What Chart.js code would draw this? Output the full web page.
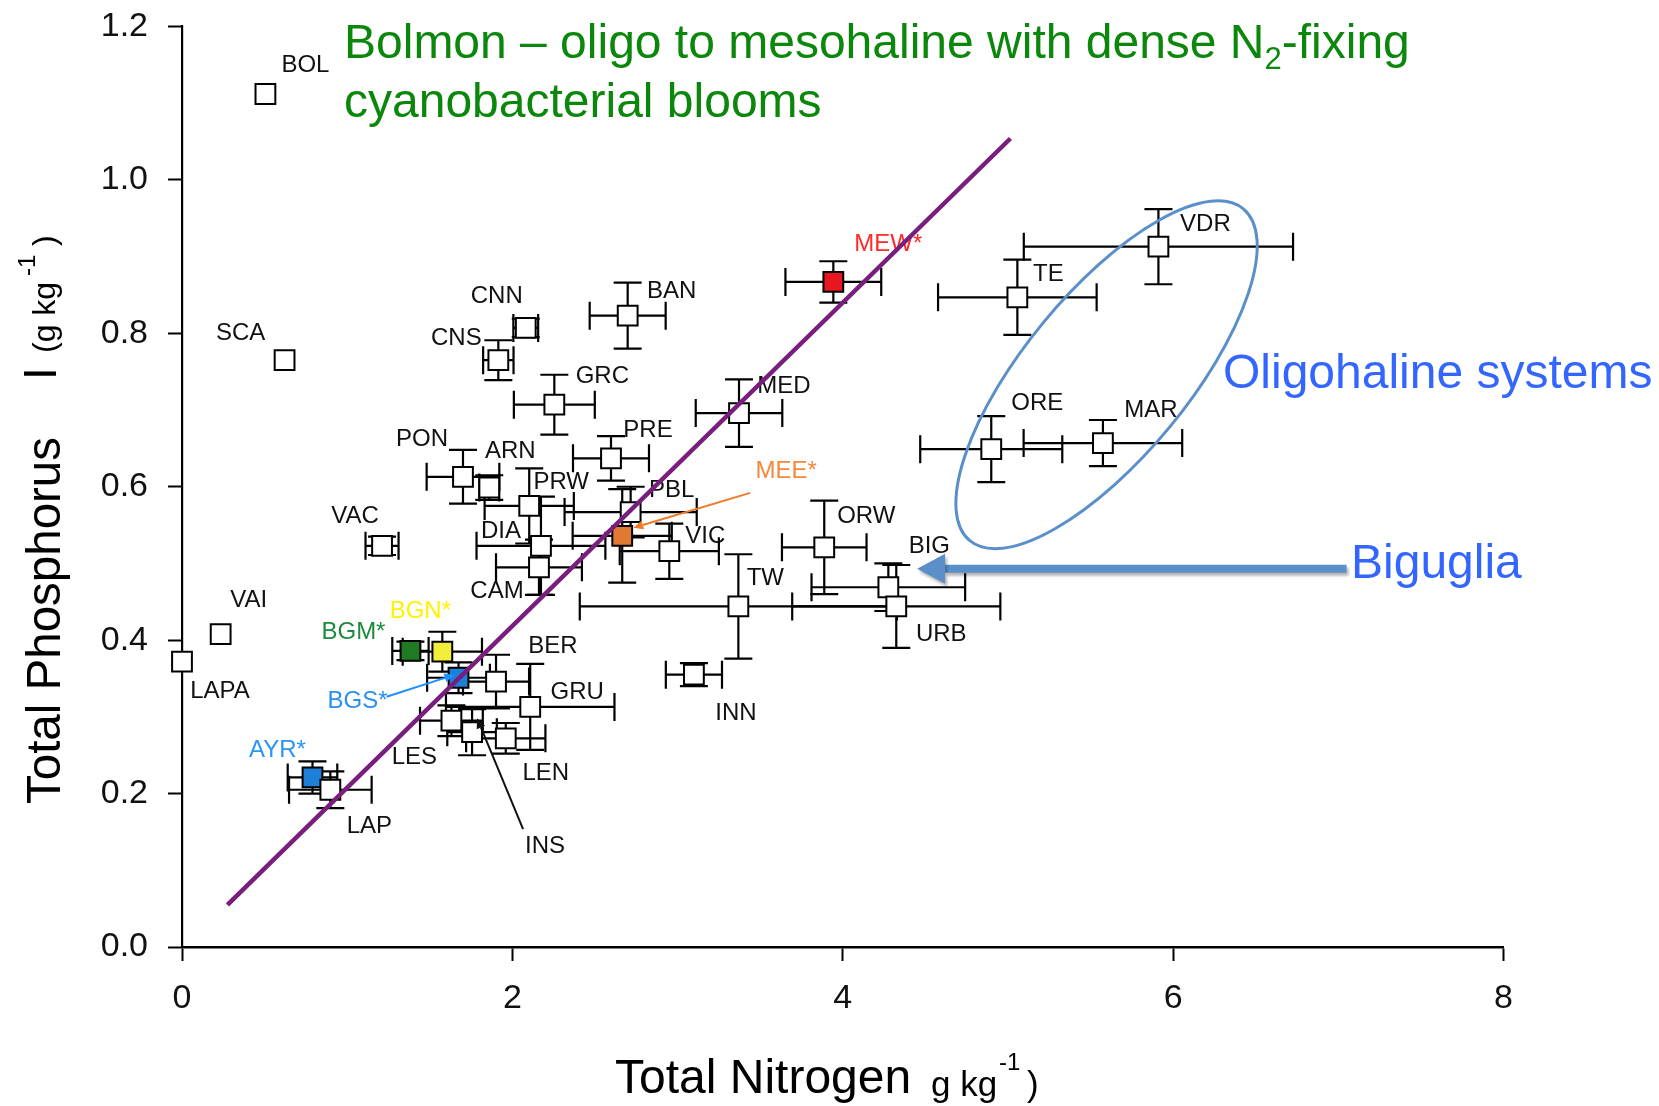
<!DOCTYPE html>
<html>
<head>
<meta charset="utf-8">
<script src="https://cdn.jsdelivr.net/npm/chart.js@4.4.1/dist/chart.umd.min.js"></script>
<style>
  html, body { margin: 0; padding: 0; background: #fff; }
  #wrap { width: 1659px; height: 1106px; position: relative; }
</style>
</head>
<body>
<div id="wrap"><canvas id="chart"></canvas></div>
<script>
// site codes, mean total N and total P (g/kg) with their error bars
const sites = ['BOL','SCA','CNN','CNS','BAN','GRC','MEW*','MED','PRE','PON','ARN','PRW','PBL','MEE*','VAC','DIA','VIC','CAM','TW','ORW','BIG','URB','VDR','TE','ORE','MAR','VAI','LAPA','BGN*','BGM*','BGS*','BER','GRU','LES','LEN','INS','AYR*','LAP','INN']
const nitrogen = [0.505,0.621,2.081,1.915,2.698,2.254,3.943,3.372,2.597,1.701,1.860,2.102,2.716,2.665,1.211,2.173,2.950,2.161,3.368,3.888,4.276,4.324,5.911,5.057,4.899,5.575,0.234,0.0,1.576,1.383,1.674,1.901,2.108,1.631,1.960,1.756,0.790,0.898,3.099]
const phosphorus = [1.112,0.765,0.807,0.765,0.823,0.707,0.867,0.696,0.637,0.613,0.599,0.575,0.567,0.536,0.523,0.523,0.516,0.495,0.444,0.521,0.469,0.444,0.913,0.847,0.649,0.657,0.408,0.372,0.385,0.386,0.351,0.346,0.313,0.295,0.272,0.280,0.221,0.205,0.355]
const nitrogenErr = [0,0,0.075,0.092,0.23,0.245,0.29,0.262,0.23,0.22,0.06,0.27,0.40,0.30,0.10,0.39,0.30,0.26,0.96,0.256,0.465,0.63,0.815,0.48,0.43,0.48,0,0,0.24,0.11,0.19,0.20,0.51,0.19,0.24,0.15,0.15,0.25,0.17]
const phosphorusErr = [0,0,0.012,0.026,0.043,0.039,0.027,0.044,0.029,0.035,0.016,0.049,0.033,0.061,0.012,0.064,0.036,0.036,0.068,0.061,0.031,0.054,0.049,0.049,0.043,0.030,0,0,0.026,0.012,0.02,0.035,0.056,0.02,0.02,0.03,0.021,0.024,0.015]

// fitted line end points
const fitN = [0.275, 5.015]
const fitP = [0.055, 1.054]

const xTicks = [0, 2, 4, 6, 8]
const yTicks = [0, 0.2, 0.4, 0.6, 0.8, 1.0, 1.2]

// label placement, px from the point centre
const labelOffsets = {
  'BOL':[40,-29], 'SCA':[-44,-27], 'CNN':[-29,-32], 'CNS':[-42,-22], 'BAN':[44,-24], 'GRC':[48,-28],
  'MEW*':[55,-38], 'MED':[45,-27], 'PRE':[37,-28], 'PON':[-41,-37], 'ARN':[21,-36], 'PRW':[32,-24],
  'PBL':[41,-22], 'MEE*':[164,-64], 'VAC':[-27,-29], 'DIA':[-40,-14], 'VIC':[36,-15], 'CAM':[-42,24],
  'TW':[27,-28], 'ORW':[42,-31], 'BIG':[41,-41], 'URB':[45,28], 'VDR':[47,-22], 'TE':[31,-23],
  'ORE':[46,-46], 'MAR':[48,-33], 'VAI':[28,-34], 'LAPA':[38,30], 'BGN*':[-22,-40], 'BGM*':[-57,-19],
  'BGS*':[-101,24], 'BER':[57,-35], 'GRU':[47,-15], 'LES':[-37,37], 'LEN':[40,35], 'INS':[73,114],
  'AYR*':[-35,-27], 'LAP':[39,37], 'INN':[42,39]
}
const fillColors = {'MEW*':'#e8161e', 'MEE*':'#e07a30', 'BGN*':'#f2ee3c', 'BGM*':'#1f7a22', 'BGS*':'#1c7fd8', 'AYR*':'#1e7fd8'}
const labelColors = {'MEW*':'#ff2a2a', 'MEE*':'#f5883a', 'BGN*':'#fff200', 'BGM*':'#1c8c3c', 'BGS*':'#2a90f0', 'AYR*':'#2a95f5'}
// arrows from label to point: [label dx, label dy, point dx, point dy, colour]
const pointerArrows = {
  'MEE*':[-36,21,11,-8,'#f07a28'],
  'BGS*':[29,-5,-4,-3,'#1e90ff'],
  'INS':[-22,-17,5,-14,'#111']
}

const FONT = '"Liberation Sans", Arial, sans-serif'

function arrow(ctx, x0, y0, x1, y1, head, half) {
  const a = Math.atan2(y1 - y0, x1 - x0)
  const bx = x1 - head * Math.cos(a), by = y1 - head * Math.sin(a)
  ctx.beginPath()
  ctx.moveTo(x0, y0)
  ctx.lineTo(bx, by)
  ctx.stroke()
  ctx.beginPath()
  ctx.moveTo(x1, y1)
  ctx.lineTo(bx + half * Math.sin(a), by - half * Math.cos(a))
  ctx.lineTo(bx - half * Math.sin(a), by + half * Math.cos(a))
  ctx.closePath()
  ctx.fill()
}

const errorBars = {
  id: 'errorBars',
  beforeDatasetsDraw(chart) {
    const {ctx, scales: {x, y}} = chart
    const cap = 14
    ctx.save()
    ctx.strokeStyle = '#000'
    ctx.lineWidth = 2.2
    sites.forEach((s, i) => {
      let px = x.getPixelForValue(nitrogen[i])
      let py = y.getPixelForValue(phosphorus[i])
      ctx.beginPath()
      if (nitrogenErr[i] > 0) {
        let x0 = x.getPixelForValue(nitrogen[i] - nitrogenErr[i])
        let x1 = x.getPixelForValue(nitrogen[i] + nitrogenErr[i])
        ctx.moveTo(x0, py); ctx.lineTo(x1, py)
        ctx.moveTo(x0, py - cap); ctx.lineTo(x0, py + cap)
        ctx.moveTo(x1, py - cap); ctx.lineTo(x1, py + cap)
      }
      if (phosphorusErr[i] > 0) {
        let y0 = y.getPixelForValue(phosphorus[i] - phosphorusErr[i])
        let y1 = y.getPixelForValue(phosphorus[i] + phosphorusErr[i])
        ctx.moveTo(px, y0); ctx.lineTo(px, y1)
        ctx.moveTo(px - cap, y0); ctx.lineTo(px + cap, y0)
        ctx.moveTo(px - cap, y1); ctx.lineTo(px + cap, y1)
      }
      ctx.stroke()
    })
    // site labels
    ctx.font = '24px ' + FONT
    ctx.textAlign = 'center'
    ctx.textBaseline = 'middle'
    sites.forEach((s, i) => {
      let px = x.getPixelForValue(nitrogen[i])
      let py = y.getPixelForValue(phosphorus[i])
      let off = labelOffsets[s]
      ctx.fillStyle = labelColors[s] || '#111'
      ctx.fillText(s, px + off[0], py + off[1])
    })
    ctx.restore()
  }
}

const annotations = {
  id: 'annotations',
  afterDatasetsDraw(chart) {
    const {ctx, scales: {x, y}} = chart
    ctx.save()
    // label pointers
    for (let s in pointerArrows) {
      let i = sites.indexOf(s)
      let [lx, ly, dx, dy, col] = pointerArrows[s]
      let px = x.getPixelForValue(nitrogen[i])
      let py = y.getPixelForValue(phosphorus[i])
      let off = labelOffsets[s]
      ctx.strokeStyle = col
      ctx.fillStyle = col
      ctx.lineWidth = 2
      arrow(ctx, px + off[0] + lx, py + off[1] + ly, px + dx, py + dy, 10, 4.5)
    }

    // oligohaline ellipse
    ctx.strokeStyle = '#5b8fc9'
    ctx.lineWidth = 3
    ctx.beginPath()
    ctx.ellipse(x.getPixelForValue(5.597), y.getPixelForValue(0.746), 215, 82, -50.5 * Math.PI / 180, 0, Math.PI * 2)
    ctx.stroke()

    // Biguglia arrow
    ctx.save()
    ctx.shadowColor = 'rgba(0,0,0,0.3)'
    ctx.shadowBlur = 3
    ctx.shadowOffsetX = 2
    ctx.shadowOffsetY = 3
    ctx.strokeStyle = '#5b8fc9'
    ctx.fillStyle = '#5b8fc9'
    ctx.lineWidth = 8
    arrow(ctx, x.getPixelForValue(7.05), y.getPixelForValue(0.493), x.getPixelForValue(4.45), y.getPixelForValue(0.493), 28, 15)
    ctx.restore()

    ctx.textAlign = 'left'
    ctx.textBaseline = 'alphabetic'
    ctx.fillStyle = '#3366ff'
    ctx.font = '48px ' + FONT
    ctx.fillText('Oligohaline systems', 1223, 388)
    ctx.fillText('Biguglia', 1351, 578)

    // Bolmon note
    ctx.fillStyle = '#0b870b'
    let t1 = 'Bolmon \u2013 oligo to mesohaline with dense N'
    ctx.fillText(t1, 344, 58)
    let w1 = ctx.measureText(t1).width
    ctx.font = '31px ' + FONT
    ctx.fillText('2', 344 + w1, 69)
    let w2 = ctx.measureText('2').width
    ctx.font = '48px ' + FONT
    ctx.fillText('-fixing', 344 + w1 + w2, 58)
    ctx.fillText('cyanobacterial blooms', 344, 117)

    // axis titles
    ctx.fillStyle = '#000'
    ctx.font = '48px ' + FONT
    ctx.fillText('Total Nitrogen', 615, 1093)
    ctx.font = '35px ' + FONT
    ctx.fillText('g kg', 931, 1096)
    ctx.fillText(')', 1027, 1096)
    ctx.font = '24px ' + FONT
    ctx.fillText('-1', 999, 1070)

    ctx.translate(60, 804)
    ctx.rotate(-Math.PI / 2)
    ctx.font = '47.5px ' + FONT
    ctx.fillText('Total Phosphorus', 0, 0)
    ctx.font = '46px ' + FONT
    ctx.fillText('I', 424, -4)
    ctx.font = '32px ' + FONT
    ctx.fillText('(g kg', 451, -5)
    ctx.fillText(')', 558, -5)
    ctx.font = '24px ' + FONT
    ctx.fillText('-1', 528, -25)
    ctx.restore()
  }
}

const ctx = document.getElementById('chart').getContext('2d')
const chart = new Chart(ctx, {
  type: 'scatter',
  data: {
    datasets: [{
      label: 'fit',
      data: fitN.map((n, i) => ({x: n, y: fitP[i]})),
      showLine: true,
      borderColor: '#781e7c',
      borderWidth: 4.5,
      pointRadius: 0,
      clip: false,
      order: 0
    },
    {
      label: 'sites',
      data: sites.map((s, i) => ({x: nitrogen[i], y: phosphorus[i]})),
      pointStyle: 'rect',
      pointRadius: 14,
      pointBorderWidth: 2,
      pointBorderColor: '#000',
      pointBackgroundColor: sites.map(s => fillColors[s] || '#fff'),
      clip: false,
      order: 1
    }]
  },
  options: {
    responsive: true,
    maintainAspectRatio: false,
    animation: false,
    events: [],
    layout: { padding: { top: 26.5, right: 155.5, left: 0, bottom: 0 } },
    plugins: { legend: { display: false }, tooltip: { enabled: false } },
    scales: {
      x: {
        type: 'linear', min: 0, max: 8,
        afterBuildTicks: s => { s.ticks = xTicks.map(v => ({value: v})) },
        afterFit: s => { s.height = 159; s.paddingLeft = 0; s.paddingRight = 0 },
        ticks: { color: '#111', font: { family: FONT, size: 34 }, padding: 17 },
        grid: { drawOnChartArea: false, drawTicks: true, tickLength: 14, tickWidth: 2, tickColor: '#000' },
        border: { color: '#000', width: 2.5 }
      },
      y: {
        type: 'linear', min: 0, max: 1.2,
        afterBuildTicks: s => { s.ticks = yTicks.map(v => ({value: v})) },
        afterFit: s => { s.width = 182; s.paddingTop = 0; s.paddingBottom = 0 },
        ticks: { color: '#111', font: { family: FONT, size: 34 }, padding: 20, callback: v => v.toFixed(1) },
        grid: { drawOnChartArea: false, drawTicks: true, tickLength: 14, tickWidth: 2, tickColor: '#000' },
        border: { color: '#000', width: 2.2 }
      }
    }
  },
  plugins: [errorBars, annotations]
})
</script>
</body>
</html>
